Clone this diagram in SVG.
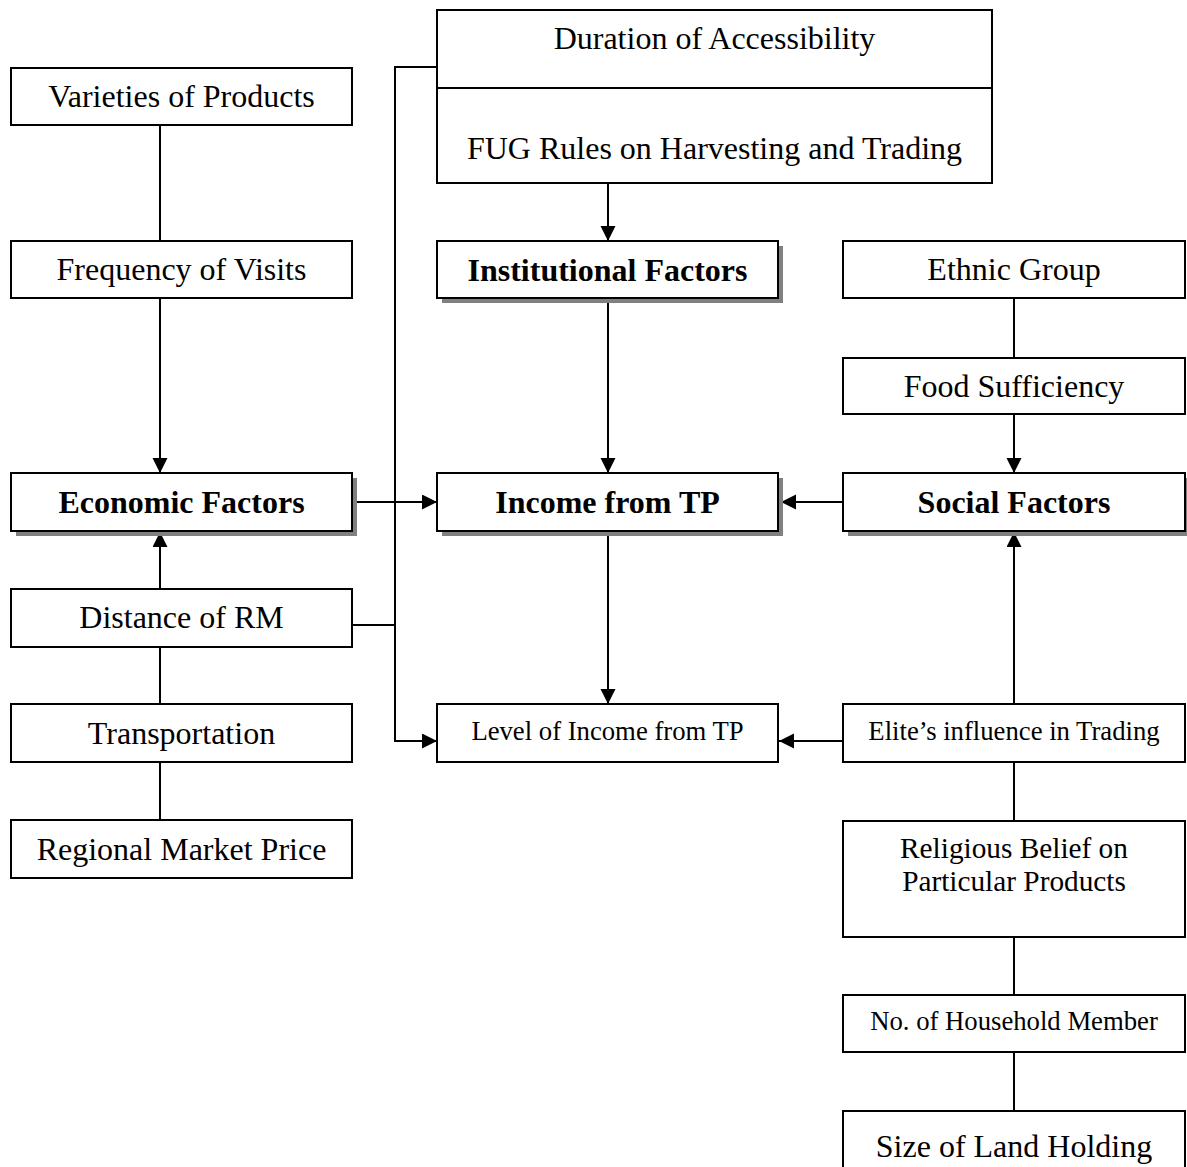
<svg xmlns="http://www.w3.org/2000/svg" width="1187" height="1167" viewBox="0 0 1187 1167">
  <style>
    .box { fill: #ffffff; stroke: #000000; stroke-width: 2; }
    .shadow { fill: #808080; stroke: none; }
    .lbl { font-family: "Liberation Serif", "Times New Roman", serif; font-size: 32px; fill: #000000; text-anchor: middle; }
    .bold { font-weight: bold; }
    .small { font-size: 26.7px; }
    .mid { font-size: 29.3px; }
    .link { fill: none; stroke: #000000; stroke-width: 2; }
  </style>
  <defs>
    <marker id="arrow" markerUnits="userSpaceOnUse" markerWidth="16" markerHeight="16" refX="15" refY="7.5" orient="auto">
      <path d="M0,0 L15,7.5 L0,15 z" fill="#000000"/>
    </marker>
  </defs>
  <rect width="1187" height="1167" fill="#ffffff"/>

  <!-- connectors -->
  <g id="connectors">
    <line class="link" x1="160" y1="125" x2="160" y2="241"/>
    <line class="link" x1="160" y1="298" x2="160" y2="473" marker-end="url(#arrow)"/>
    <line class="link" x1="160" y1="589" x2="160" y2="532" marker-end="url(#arrow)"/>
    <line class="link" x1="160" y1="647" x2="160" y2="704"/>
    <line class="link" x1="160" y1="762" x2="160" y2="820"/>
    <line class="link" x1="357" y1="502" x2="437" y2="502" marker-end="url(#arrow)"/>
    <polyline class="link" points="437,67 395,67 395,741 437,741" marker-end="url(#arrow)"/>
    <line class="link" x1="352" y1="625" x2="395" y2="625"/>
    <line class="link" x1="608" y1="183" x2="608" y2="241" marker-end="url(#arrow)"/>
    <line class="link" x1="608" y1="298" x2="608" y2="473" marker-end="url(#arrow)"/>
    <line class="link" x1="608" y1="531" x2="608" y2="704" marker-end="url(#arrow)"/>
    <line class="link" x1="843" y1="502" x2="781" y2="502" marker-end="url(#arrow)"/>
    <line class="link" x1="1014" y1="298" x2="1014" y2="358"/>
    <line class="link" x1="1014" y1="414" x2="1014" y2="473" marker-end="url(#arrow)"/>
    <line class="link" x1="1014" y1="704" x2="1014" y2="532" marker-end="url(#arrow)"/>
    <line class="link" x1="843" y1="741" x2="779" y2="741" marker-end="url(#arrow)"/>
    <line class="link" x1="1014" y1="762" x2="1014" y2="821"/>
    <line class="link" x1="1014" y1="937" x2="1014" y2="995"/>
    <line class="link" x1="1014" y1="1052" x2="1014" y2="1111"/>
  </g>

  <!-- left column -->
  <g id="varieties">
    <rect class="box" x="11" y="68" width="341" height="57"/>
    <text class="lbl" x="181.5" y="107">Varieties of Products</text>
  </g>
  <g id="frequency">
    <rect class="box" x="11" y="241" width="341" height="57"/>
    <text class="lbl" x="181.5" y="280">Frequency of Visits</text>
  </g>
  <g id="economic">
    <rect class="shadow" x="16" y="478" width="341" height="58"/>
    <rect class="box" x="11" y="473" width="341" height="58"/>
    <text class="lbl bold" x="181.5" y="513">Economic Factors</text>
  </g>
  <g id="distance">
    <rect class="box" x="11" y="589" width="341" height="58"/>
    <text class="lbl" x="181.5" y="628">Distance of RM</text>
  </g>
  <g id="transportation">
    <rect class="box" x="11" y="704" width="341" height="58"/>
    <text class="lbl" x="181.5" y="744">Transportation</text>
  </g>
  <g id="regional-price">
    <rect class="box" x="11" y="820" width="341" height="58"/>
    <text class="lbl" x="181.5" y="860">Regional Market Price</text>
  </g>

  <!-- middle column -->
  <g id="fug-rules">
    <rect class="box" x="437" y="10" width="555" height="173"/>
    <line class="link" x1="437" y1="88" x2="992" y2="88"/>
    <text class="lbl" x="714.5" y="49">Duration of Accessibility</text>
    <text class="lbl" x="714.5" y="159">FUG Rules on Harvesting and Trading</text>
  </g>
  <g id="institutional">
    <rect class="shadow" x="442" y="246" width="341" height="57"/>
    <rect class="box" x="437" y="241" width="341" height="57"/>
    <text class="lbl bold" x="607.5" y="281">Institutional Factors</text>
  </g>
  <g id="income">
    <rect class="shadow" x="442" y="478" width="341" height="58"/>
    <rect class="box" x="437" y="473" width="341" height="58"/>
    <text class="lbl bold" x="607.5" y="513">Income from TP</text>
  </g>
  <g id="income-level">
    <rect class="box" x="437" y="704" width="341" height="58"/>
    <text class="lbl small" x="607.5" y="740">Level of Income from TP</text>
  </g>

  <!-- right column -->
  <g id="ethnic">
    <rect class="box" x="843" y="241" width="342" height="57"/>
    <text class="lbl" x="1014" y="280">Ethnic Group</text>
  </g>
  <g id="food">
    <rect class="box" x="843" y="358" width="342" height="56"/>
    <text class="lbl" x="1014" y="397">Food Sufficiency</text>
  </g>
  <g id="social">
    <rect class="shadow" x="848" y="478" width="342" height="58"/>
    <rect class="box" x="843" y="473" width="342" height="58"/>
    <text class="lbl bold" x="1014" y="513">Social Factors</text>
  </g>
  <g id="elite">
    <rect class="box" x="843" y="704" width="342" height="58"/>
    <text class="lbl small" x="1014" y="740">Elite’s influence in Trading</text>
  </g>
  <g id="religious">
    <rect class="box" x="843" y="821" width="342" height="116"/>
    <text class="lbl mid" x="1014" y="858">Religious Belief on</text>
    <text class="lbl mid" x="1014" y="891">Particular Products</text>
  </g>
  <g id="household">
    <rect class="box" x="843" y="995" width="342" height="57"/>
    <text class="lbl small" x="1014" y="1030">No. of Household Member</text>
  </g>
  <g id="land">
    <rect class="box" x="843" y="1111" width="342" height="62"/>
    <text class="lbl" x="1014" y="1157">Size of Land Holding</text>
  </g>
</svg>
